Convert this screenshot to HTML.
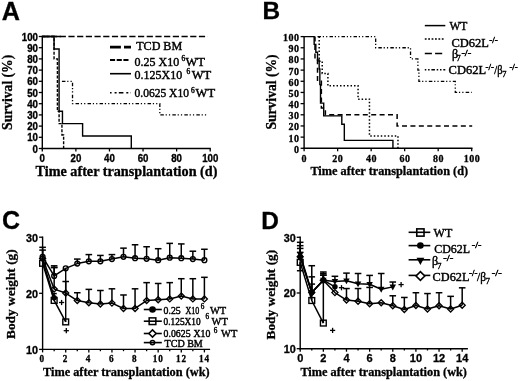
<!DOCTYPE html>
<html><head><meta charset="utf-8"><style>
html,body{margin:0;padding:0;background:#fff;}
svg{display:block;filter:grayscale(1) blur(0.3px);}
.s,.sb{font-family:"Liberation Sans", sans-serif;}
.r,.rb{font-family:"Liberation Serif", serif;}
.sb,.rb{font-weight:bold;}
text{stroke:#000;stroke-width:0.3px;}
.r{stroke-width:0.42px;}
</style></head><body>
<svg width="520" height="381" viewBox="0 0 520 381">
<rect width="520" height="381" fill="#fff"/>
<text class="sb" x="1.80" y="20.10" font-size="25.2">A</text>
<line x1="42.30" y1="35.80" x2="42.30" y2="149.20" stroke="#000" stroke-width="1.4" stroke-linecap="butt"/>
<line x1="41.60" y1="148.50" x2="210.80" y2="148.50" stroke="#000" stroke-width="1.4" stroke-linecap="butt"/>
<line x1="38.80" y1="148.50" x2="42.30" y2="148.50" stroke="#000" stroke-width="1.3" stroke-linecap="butt"/>
<text class="sb" transform="translate(38.00,152.60) scale(1,1.22)" font-size="9.7" text-anchor="end">0</text>
<line x1="38.80" y1="137.30" x2="42.30" y2="137.30" stroke="#000" stroke-width="1.3" stroke-linecap="butt"/>
<text class="sb" transform="translate(38.00,141.40) scale(1,1.22)" font-size="9.7" text-anchor="end">10</text>
<line x1="38.80" y1="126.10" x2="42.30" y2="126.10" stroke="#000" stroke-width="1.3" stroke-linecap="butt"/>
<text class="sb" transform="translate(38.00,130.20) scale(1,1.22)" font-size="9.7" text-anchor="end">20</text>
<line x1="38.80" y1="114.90" x2="42.30" y2="114.90" stroke="#000" stroke-width="1.3" stroke-linecap="butt"/>
<text class="sb" transform="translate(38.00,119.00) scale(1,1.22)" font-size="9.7" text-anchor="end">30</text>
<line x1="38.80" y1="103.70" x2="42.30" y2="103.70" stroke="#000" stroke-width="1.3" stroke-linecap="butt"/>
<text class="sb" transform="translate(38.00,107.80) scale(1,1.22)" font-size="9.7" text-anchor="end">40</text>
<line x1="38.80" y1="92.50" x2="42.30" y2="92.50" stroke="#000" stroke-width="1.3" stroke-linecap="butt"/>
<text class="sb" transform="translate(38.00,96.60) scale(1,1.22)" font-size="9.7" text-anchor="end">50</text>
<line x1="38.80" y1="81.30" x2="42.30" y2="81.30" stroke="#000" stroke-width="1.3" stroke-linecap="butt"/>
<text class="sb" transform="translate(38.00,85.40) scale(1,1.22)" font-size="9.7" text-anchor="end">60</text>
<line x1="38.80" y1="70.10" x2="42.30" y2="70.10" stroke="#000" stroke-width="1.3" stroke-linecap="butt"/>
<text class="sb" transform="translate(38.00,74.20) scale(1,1.22)" font-size="9.7" text-anchor="end">70</text>
<line x1="38.80" y1="58.90" x2="42.30" y2="58.90" stroke="#000" stroke-width="1.3" stroke-linecap="butt"/>
<text class="sb" transform="translate(38.00,63.00) scale(1,1.22)" font-size="9.7" text-anchor="end">80</text>
<line x1="38.80" y1="47.70" x2="42.30" y2="47.70" stroke="#000" stroke-width="1.3" stroke-linecap="butt"/>
<text class="sb" transform="translate(38.00,51.80) scale(1,1.22)" font-size="9.7" text-anchor="end">90</text>
<line x1="38.80" y1="36.50" x2="42.30" y2="36.50" stroke="#000" stroke-width="1.3" stroke-linecap="butt"/>
<text class="sb" transform="translate(38.00,40.60) scale(1,1.22)" font-size="9.7" text-anchor="end">100</text>
<line x1="42.30" y1="148.50" x2="42.30" y2="151.50" stroke="#000" stroke-width="1.3" stroke-linecap="butt"/>
<text class="sb" transform="translate(42.30,161.60) scale(1,1.22)" font-size="9.7" text-anchor="middle">0</text>
<line x1="75.88" y1="148.50" x2="75.88" y2="151.50" stroke="#000" stroke-width="1.3" stroke-linecap="butt"/>
<text class="sb" transform="translate(75.88,161.60) scale(1,1.22)" font-size="9.7" text-anchor="middle">20</text>
<line x1="109.46" y1="148.50" x2="109.46" y2="151.50" stroke="#000" stroke-width="1.3" stroke-linecap="butt"/>
<text class="sb" transform="translate(109.46,161.60) scale(1,1.22)" font-size="9.7" text-anchor="middle">40</text>
<line x1="143.04" y1="148.50" x2="143.04" y2="151.50" stroke="#000" stroke-width="1.3" stroke-linecap="butt"/>
<text class="sb" transform="translate(143.04,161.60) scale(1,1.22)" font-size="9.7" text-anchor="middle">60</text>
<line x1="176.62" y1="148.50" x2="176.62" y2="151.50" stroke="#000" stroke-width="1.3" stroke-linecap="butt"/>
<text class="sb" transform="translate(176.62,161.60) scale(1,1.22)" font-size="9.7" text-anchor="middle">80</text>
<line x1="210.20" y1="148.50" x2="210.20" y2="151.50" stroke="#000" stroke-width="1.3" stroke-linecap="butt"/>
<text class="sb" transform="translate(210.20,161.60) scale(1,1.22)" font-size="9.7" text-anchor="middle">100</text>
<text class="rb" x="35.50" y="175.90" font-size="14.2">Time after transplantation (d)</text>
<text class="rb" transform="translate(11.5,129.9) rotate(-90)" font-size="13.6">Survival (%)</text>
<line x1="42.30" y1="36.50" x2="207.68" y2="36.50" stroke="#000" stroke-width="1.6" stroke-linecap="butt" stroke-dasharray="6.2,2.5"/>
<polyline points="42.30,36.50 54.05,36.50 54.05,58.90 57.41,58.90 57.41,111.20 59.09,111.20 59.09,123.64 61.94,123.64 61.94,135.06 63.62,135.06 63.62,148.50" fill="none" stroke="#000" stroke-width="1.4" stroke-linejoin="miter" stroke-dasharray="3,1.5"/>
<polyline points="42.30,36.50 54.05,36.50 54.05,48.93 59.09,48.93 59.09,111.20 62.45,111.20 62.45,123.64 82.60,123.64 82.60,136.07 131.29,136.07 131.29,148.50" fill="none" stroke="#000" stroke-width="1.4" stroke-linejoin="miter"/>
<polyline points="61.94,81.30 72.52,81.30 72.52,103.70 159.83,103.70 159.83,114.90 208.19,114.90" fill="none" stroke="#000" stroke-width="1.3" stroke-linejoin="miter" stroke-dasharray="3.5,1.8,1.2,2.1,1.2,2.2"/>
<line x1="42.30" y1="36.50" x2="61.00" y2="36.50" stroke="#000" stroke-width="1.5" stroke-linecap="butt"/>
<line x1="110.00" y1="47.10" x2="131.00" y2="47.10" stroke="#000" stroke-width="2.6" stroke-linecap="butt" stroke-dasharray="10.9,3.1"/>
<line x1="110.00" y1="60.00" x2="129.20" y2="60.00" stroke="#000" stroke-width="2.0" stroke-linecap="butt" stroke-dasharray="5.1,1.6"/>
<line x1="110.00" y1="73.70" x2="131.00" y2="73.70" stroke="#000" stroke-width="1.6" stroke-linecap="butt"/>
<line x1="110.00" y1="92.80" x2="131.00" y2="92.80" stroke="#000" stroke-width="1.6" stroke-linecap="butt" stroke-dasharray="1.6,3,2,2.2,4.6,2.9,2,2.4"/>
<text class="r" x="136.20" y="50.40" font-size="12" textLength="46" lengthAdjust="spacingAndGlyphs">TCD BM</text>
<text class="r" x="134.50" y="66.10" font-size="12">0.25 X10</text>
<text class="r" x="181.60" y="61.00" font-size="7.4">6</text>
<text class="r" x="185.40" y="66.10" font-size="12" textLength="19.6" lengthAdjust="spacingAndGlyphs">WT</text>
<text class="r" x="134.50" y="79.40" font-size="12">0.125X10</text>
<text class="r" x="186.60" y="73.90" font-size="7.4">6</text>
<text class="r" x="191.70" y="79.40" font-size="12" textLength="19.6" lengthAdjust="spacingAndGlyphs">WT</text>
<text class="r" x="134.50" y="97.20" font-size="12" textLength="54.5" lengthAdjust="spacingAndGlyphs">0.0625 X10</text>
<text class="r" x="191.10" y="93.40" font-size="7.4">6</text>
<text class="r" x="195.50" y="97.20" font-size="12" textLength="19.6" lengthAdjust="spacingAndGlyphs">WT</text>
<text class="sb" x="262.50" y="19.20" font-size="24.4">B</text>
<line x1="304.10" y1="35.90" x2="304.10" y2="149.00" stroke="#000" stroke-width="1.4" stroke-linecap="butt"/>
<line x1="303.40" y1="148.30" x2="472.50" y2="148.30" stroke="#000" stroke-width="1.4" stroke-linecap="butt"/>
<line x1="300.60" y1="148.30" x2="304.10" y2="148.30" stroke="#000" stroke-width="1.3" stroke-linecap="butt"/>
<text class="rb" x="299.50" y="152.70" font-size="10" text-anchor="end" letter-spacing="0.5">0</text>
<line x1="300.60" y1="137.13" x2="304.10" y2="137.13" stroke="#000" stroke-width="1.3" stroke-linecap="butt"/>
<text class="rb" x="299.50" y="141.53" font-size="10" text-anchor="end" letter-spacing="0.5">10</text>
<line x1="300.60" y1="125.96" x2="304.10" y2="125.96" stroke="#000" stroke-width="1.3" stroke-linecap="butt"/>
<text class="rb" x="299.50" y="130.36" font-size="10" text-anchor="end" letter-spacing="0.5">20</text>
<line x1="300.60" y1="114.79" x2="304.10" y2="114.79" stroke="#000" stroke-width="1.3" stroke-linecap="butt"/>
<text class="rb" x="299.50" y="119.19" font-size="10" text-anchor="end" letter-spacing="0.5">30</text>
<line x1="300.60" y1="103.62" x2="304.10" y2="103.62" stroke="#000" stroke-width="1.3" stroke-linecap="butt"/>
<text class="rb" x="299.50" y="108.02" font-size="10" text-anchor="end" letter-spacing="0.5">40</text>
<line x1="300.60" y1="92.45" x2="304.10" y2="92.45" stroke="#000" stroke-width="1.3" stroke-linecap="butt"/>
<text class="rb" x="299.50" y="96.85" font-size="10" text-anchor="end" letter-spacing="0.5">50</text>
<line x1="300.60" y1="81.28" x2="304.10" y2="81.28" stroke="#000" stroke-width="1.3" stroke-linecap="butt"/>
<text class="rb" x="299.50" y="85.68" font-size="10" text-anchor="end" letter-spacing="0.5">60</text>
<line x1="300.60" y1="70.11" x2="304.10" y2="70.11" stroke="#000" stroke-width="1.3" stroke-linecap="butt"/>
<text class="rb" x="299.50" y="74.51" font-size="10" text-anchor="end" letter-spacing="0.5">70</text>
<line x1="300.60" y1="58.94" x2="304.10" y2="58.94" stroke="#000" stroke-width="1.3" stroke-linecap="butt"/>
<text class="rb" x="299.50" y="63.34" font-size="10" text-anchor="end" letter-spacing="0.5">80</text>
<line x1="300.60" y1="47.77" x2="304.10" y2="47.77" stroke="#000" stroke-width="1.3" stroke-linecap="butt"/>
<text class="rb" x="299.50" y="52.17" font-size="10" text-anchor="end" letter-spacing="0.5">90</text>
<line x1="300.60" y1="36.60" x2="304.10" y2="36.60" stroke="#000" stroke-width="1.3" stroke-linecap="butt"/>
<text class="rb" x="299.50" y="41.00" font-size="10" text-anchor="end" letter-spacing="0.5">100</text>
<line x1="304.10" y1="148.30" x2="304.10" y2="151.30" stroke="#000" stroke-width="1.3" stroke-linecap="butt"/>
<text class="rb" x="304.35" y="161.80" font-size="10" text-anchor="middle" letter-spacing="0.5">0</text>
<line x1="337.62" y1="148.30" x2="337.62" y2="151.30" stroke="#000" stroke-width="1.3" stroke-linecap="butt"/>
<text class="rb" x="337.87" y="161.80" font-size="10" text-anchor="middle" letter-spacing="0.5">20</text>
<line x1="371.14" y1="148.30" x2="371.14" y2="151.30" stroke="#000" stroke-width="1.3" stroke-linecap="butt"/>
<text class="rb" x="371.39" y="161.80" font-size="10" text-anchor="middle" letter-spacing="0.5">40</text>
<line x1="404.66" y1="148.30" x2="404.66" y2="151.30" stroke="#000" stroke-width="1.3" stroke-linecap="butt"/>
<text class="rb" x="404.91" y="161.80" font-size="10" text-anchor="middle" letter-spacing="0.5">60</text>
<line x1="438.18" y1="148.30" x2="438.18" y2="151.30" stroke="#000" stroke-width="1.3" stroke-linecap="butt"/>
<text class="rb" x="438.43" y="161.80" font-size="10" text-anchor="middle" letter-spacing="0.5">80</text>
<line x1="471.70" y1="148.30" x2="471.70" y2="151.30" stroke="#000" stroke-width="1.3" stroke-linecap="butt"/>
<text class="rb" x="471.95" y="161.80" font-size="10" text-anchor="middle" letter-spacing="0.5">100</text>
<text class="rb" x="310.40" y="175.40" font-size="12.3">Time after transplantation (d)</text>
<text class="rb" transform="translate(276.0,129.6) rotate(-90)" font-size="13.6">Survival (%)</text>
<polyline points="304.10,36.60 314.16,36.60 314.16,44.42 315.83,44.42 315.83,52.24 317.51,52.24 317.51,60.06 319.18,60.06 319.18,68.99 319.85,68.99 319.85,84.63 320.52,84.63 320.52,103.17 323.71,103.17 323.71,115.91 341.81,115.91 341.81,124.28 344.32,124.28 344.32,140.37 392.93,140.37 392.93,148.30" fill="none" stroke="#000" stroke-width="1.4" stroke-linejoin="miter"/>
<polyline points="319.18,36.60 319.18,36.60 319.18,61.17 322.20,61.17 322.20,73.46 327.90,73.46 327.90,85.75 358.07,85.75 358.07,99.15 369.46,99.15 369.46,136.01 397.96,136.01 397.96,148.30" fill="none" stroke="#000" stroke-width="1.5" stroke-linejoin="miter" stroke-dasharray="1.5,2"/>
<polyline points="314.99,36.60 314.99,36.60 314.99,58.94 317.51,58.94 317.51,81.28 321.36,81.28 321.36,108.09 325.39,108.09 325.39,114.79 397.12,114.79 397.12,125.96 472.20,125.96" fill="none" stroke="#000" stroke-width="1.5" stroke-linejoin="miter" stroke-dasharray="5,3.4"/>
<polyline points="317.51,36.60 375.67,36.60 375.67,47.77 410.53,47.77 410.53,58.94 417.90,58.94 417.90,70.11 418.91,70.11 418.91,81.28 455.28,81.28 455.28,92.45 471.70,92.45" fill="none" stroke="#000" stroke-width="1.3" stroke-linejoin="miter" stroke-dasharray="3.5,1.8,1.2,2.1,1.2,2.2"/>
<line x1="424.80" y1="25.60" x2="445.30" y2="25.60" stroke="#000" stroke-width="1.5" stroke-linecap="butt"/>
<line x1="424.80" y1="39.00" x2="444.50" y2="39.00" stroke="#000" stroke-width="1.5" stroke-linecap="butt" stroke-dasharray="1.8,1.6"/>
<line x1="424.80" y1="53.50" x2="442.90" y2="53.50" stroke="#000" stroke-width="1.5" stroke-linecap="butt" stroke-dasharray="7.1,3.2"/>
<line x1="424.80" y1="69.80" x2="445.30" y2="69.80" stroke="#000" stroke-width="1.5" stroke-linecap="butt" stroke-dasharray="1.5,1.8,1.5,1.8,3.5,1.8"/>
<text class="r" x="449.40" y="30.00" font-size="12" textLength="18" lengthAdjust="spacingAndGlyphs">WT</text>
<text class="r" x="451.40" y="46.80" font-size="12" textLength="37.4" lengthAdjust="spacingAndGlyphs">CD62L</text>
<text class="r" x="489.20" y="42.60" font-size="7.6" textLength="8.6" lengthAdjust="spacingAndGlyphs">-/-</text>
<text class="r" x="451.90" y="58.40" font-size="12">β</text>
<text class="r" x="456.40" y="61.30" font-size="8.4">7</text>
<text class="r" x="461.40" y="55.60" font-size="7.6" textLength="9.8" lengthAdjust="spacingAndGlyphs">-/-</text>
<text class="r" x="448.60" y="74.20" font-size="12" textLength="37.4" lengthAdjust="spacingAndGlyphs">CD62L</text>
<text class="r" x="485.60" y="69.80" font-size="7.6" textLength="8.4" lengthAdjust="spacingAndGlyphs">-/-</text>
<text class="r" x="494.30" y="74.20" font-size="12" textLength="8.2" lengthAdjust="spacingAndGlyphs">/β</text>
<text class="r" x="502.30" y="77.10" font-size="8.4">7</text>
<text class="r" x="509.40" y="69.80" font-size="7.6" textLength="8.4" lengthAdjust="spacingAndGlyphs">-/-</text>
<text class="sb" x="2.10" y="228.80" font-size="25.0">C</text>
<line x1="42.60" y1="236.50" x2="42.60" y2="350.10" stroke="#000" stroke-width="1.4" stroke-linecap="butt"/>
<line x1="41.90" y1="349.40" x2="210.10" y2="349.40" stroke="#000" stroke-width="1.4" stroke-linecap="butt"/>
<line x1="39.10" y1="349.40" x2="42.60" y2="349.40" stroke="#000" stroke-width="1.3" stroke-linecap="butt"/>
<text class="sb" x="38.00" y="353.70" font-size="10.8" text-anchor="end">10</text>
<line x1="39.10" y1="293.30" x2="42.60" y2="293.30" stroke="#000" stroke-width="1.3" stroke-linecap="butt"/>
<text class="sb" x="38.00" y="297.60" font-size="10.8" text-anchor="end">20</text>
<line x1="39.10" y1="237.20" x2="42.60" y2="237.20" stroke="#000" stroke-width="1.3" stroke-linecap="butt"/>
<text class="sb" x="38.00" y="241.50" font-size="10.8" text-anchor="end">30</text>
<line x1="42.60" y1="349.40" x2="42.60" y2="352.40" stroke="#000" stroke-width="1.3" stroke-linecap="butt"/>
<text class="rb" transform="translate(42.30,362.00) scale(1,1.12)" font-size="9.2" text-anchor="middle" letter-spacing="0.9">0</text>
<line x1="54.16" y1="349.40" x2="54.16" y2="351.20" stroke="#000" stroke-width="1.3" stroke-linecap="butt"/>
<line x1="65.71" y1="349.40" x2="65.71" y2="352.40" stroke="#000" stroke-width="1.3" stroke-linecap="butt"/>
<text class="rb" transform="translate(65.41,362.00) scale(1,1.12)" font-size="9.2" text-anchor="middle" letter-spacing="0.9">2</text>
<line x1="77.27" y1="349.40" x2="77.27" y2="351.20" stroke="#000" stroke-width="1.3" stroke-linecap="butt"/>
<line x1="88.83" y1="349.40" x2="88.83" y2="352.40" stroke="#000" stroke-width="1.3" stroke-linecap="butt"/>
<text class="rb" transform="translate(88.53,362.00) scale(1,1.12)" font-size="9.2" text-anchor="middle" letter-spacing="0.9">4</text>
<line x1="100.39" y1="349.40" x2="100.39" y2="351.20" stroke="#000" stroke-width="1.3" stroke-linecap="butt"/>
<line x1="111.94" y1="349.40" x2="111.94" y2="352.40" stroke="#000" stroke-width="1.3" stroke-linecap="butt"/>
<text class="rb" transform="translate(111.64,362.00) scale(1,1.12)" font-size="9.2" text-anchor="middle" letter-spacing="0.9">6</text>
<line x1="123.50" y1="349.40" x2="123.50" y2="351.20" stroke="#000" stroke-width="1.3" stroke-linecap="butt"/>
<line x1="135.06" y1="349.40" x2="135.06" y2="352.40" stroke="#000" stroke-width="1.3" stroke-linecap="butt"/>
<text class="rb" transform="translate(134.76,362.00) scale(1,1.12)" font-size="9.2" text-anchor="middle" letter-spacing="0.9">8</text>
<line x1="146.61" y1="349.40" x2="146.61" y2="351.20" stroke="#000" stroke-width="1.3" stroke-linecap="butt"/>
<line x1="158.17" y1="349.40" x2="158.17" y2="352.40" stroke="#000" stroke-width="1.3" stroke-linecap="butt"/>
<text class="rb" transform="translate(158.27,362.00) scale(1,1.12)" font-size="9.2" text-anchor="middle" letter-spacing="0.9">10</text>
<line x1="169.73" y1="349.40" x2="169.73" y2="351.20" stroke="#000" stroke-width="1.3" stroke-linecap="butt"/>
<line x1="181.28" y1="349.40" x2="181.28" y2="352.40" stroke="#000" stroke-width="1.3" stroke-linecap="butt"/>
<text class="rb" transform="translate(181.38,362.00) scale(1,1.12)" font-size="9.2" text-anchor="middle" letter-spacing="0.9">12</text>
<line x1="192.84" y1="349.40" x2="192.84" y2="351.20" stroke="#000" stroke-width="1.3" stroke-linecap="butt"/>
<line x1="204.40" y1="349.40" x2="204.40" y2="352.40" stroke="#000" stroke-width="1.3" stroke-linecap="butt"/>
<text class="rb" transform="translate(204.50,362.00) scale(1,1.12)" font-size="9.2" text-anchor="middle" letter-spacing="0.9">14</text>
<text class="rb" x="43.00" y="376.00" font-size="12.3">Time after transplantation (wk)</text>
<text class="rb" transform="translate(14.5,339) rotate(-90)" font-size="13.35">Body weight (g)</text>
<line x1="42.60" y1="256.83" x2="42.60" y2="247.30" stroke="#000" stroke-width="1.5" stroke-linecap="butt"/>
<line x1="39.30" y1="247.30" x2="45.90" y2="247.30" stroke="#000" stroke-width="1.5" stroke-linecap="butt"/>
<line x1="54.16" y1="275.91" x2="54.16" y2="265.81" stroke="#000" stroke-width="1.5" stroke-linecap="butt"/>
<line x1="50.86" y1="265.81" x2="57.46" y2="265.81" stroke="#000" stroke-width="1.5" stroke-linecap="butt"/>
<line x1="77.27" y1="263.57" x2="77.27" y2="259.08" stroke="#000" stroke-width="1.5" stroke-linecap="butt"/>
<line x1="73.97" y1="259.08" x2="80.57" y2="259.08" stroke="#000" stroke-width="1.5" stroke-linecap="butt"/>
<line x1="88.83" y1="261.32" x2="88.83" y2="254.59" stroke="#000" stroke-width="1.5" stroke-linecap="butt"/>
<line x1="85.53" y1="254.59" x2="92.13" y2="254.59" stroke="#000" stroke-width="1.5" stroke-linecap="butt"/>
<line x1="100.39" y1="261.32" x2="100.39" y2="255.43" stroke="#000" stroke-width="1.5" stroke-linecap="butt"/>
<line x1="97.09" y1="255.43" x2="103.69" y2="255.43" stroke="#000" stroke-width="1.5" stroke-linecap="butt"/>
<line x1="111.94" y1="259.08" x2="111.94" y2="254.59" stroke="#000" stroke-width="1.5" stroke-linecap="butt"/>
<line x1="108.64" y1="254.59" x2="115.24" y2="254.59" stroke="#000" stroke-width="1.5" stroke-linecap="butt"/>
<line x1="123.50" y1="256.83" x2="123.50" y2="248.14" stroke="#000" stroke-width="1.5" stroke-linecap="butt"/>
<line x1="120.20" y1="248.14" x2="126.80" y2="248.14" stroke="#000" stroke-width="1.5" stroke-linecap="butt"/>
<line x1="135.06" y1="258.24" x2="135.06" y2="244.77" stroke="#000" stroke-width="1.5" stroke-linecap="butt"/>
<line x1="131.76" y1="244.77" x2="138.36" y2="244.77" stroke="#000" stroke-width="1.5" stroke-linecap="butt"/>
<line x1="146.61" y1="258.80" x2="146.61" y2="246.74" stroke="#000" stroke-width="1.5" stroke-linecap="butt"/>
<line x1="143.31" y1="246.74" x2="149.91" y2="246.74" stroke="#000" stroke-width="1.5" stroke-linecap="butt"/>
<line x1="158.17" y1="260.20" x2="158.17" y2="248.70" stroke="#000" stroke-width="1.5" stroke-linecap="butt"/>
<line x1="154.87" y1="248.70" x2="161.47" y2="248.70" stroke="#000" stroke-width="1.5" stroke-linecap="butt"/>
<line x1="169.73" y1="257.68" x2="169.73" y2="243.37" stroke="#000" stroke-width="1.5" stroke-linecap="butt"/>
<line x1="166.43" y1="243.37" x2="173.03" y2="243.37" stroke="#000" stroke-width="1.5" stroke-linecap="butt"/>
<line x1="181.28" y1="258.24" x2="181.28" y2="243.93" stroke="#000" stroke-width="1.5" stroke-linecap="butt"/>
<line x1="177.98" y1="243.93" x2="184.58" y2="243.93" stroke="#000" stroke-width="1.5" stroke-linecap="butt"/>
<line x1="192.84" y1="259.08" x2="192.84" y2="251.22" stroke="#000" stroke-width="1.5" stroke-linecap="butt"/>
<line x1="189.54" y1="251.22" x2="196.14" y2="251.22" stroke="#000" stroke-width="1.5" stroke-linecap="butt"/>
<line x1="204.40" y1="260.20" x2="204.40" y2="249.26" stroke="#000" stroke-width="1.5" stroke-linecap="butt"/>
<line x1="201.10" y1="249.26" x2="207.70" y2="249.26" stroke="#000" stroke-width="1.5" stroke-linecap="butt"/>
<line x1="42.60" y1="258.52" x2="42.60" y2="250.10" stroke="#000" stroke-width="1.5" stroke-linecap="butt"/>
<line x1="39.30" y1="250.10" x2="45.90" y2="250.10" stroke="#000" stroke-width="1.5" stroke-linecap="butt"/>
<line x1="65.71" y1="293.02" x2="65.71" y2="281.52" stroke="#000" stroke-width="1.5" stroke-linecap="butt"/>
<line x1="62.41" y1="281.52" x2="69.01" y2="281.52" stroke="#000" stroke-width="1.5" stroke-linecap="butt"/>
<line x1="77.27" y1="300.59" x2="77.27" y2="292.74" stroke="#000" stroke-width="1.5" stroke-linecap="butt"/>
<line x1="73.97" y1="292.74" x2="80.57" y2="292.74" stroke="#000" stroke-width="1.5" stroke-linecap="butt"/>
<line x1="88.83" y1="302.84" x2="88.83" y2="289.37" stroke="#000" stroke-width="1.5" stroke-linecap="butt"/>
<line x1="85.53" y1="289.37" x2="92.13" y2="289.37" stroke="#000" stroke-width="1.5" stroke-linecap="butt"/>
<line x1="100.39" y1="303.96" x2="100.39" y2="290.50" stroke="#000" stroke-width="1.5" stroke-linecap="butt"/>
<line x1="97.09" y1="290.50" x2="103.69" y2="290.50" stroke="#000" stroke-width="1.5" stroke-linecap="butt"/>
<line x1="111.94" y1="303.12" x2="111.94" y2="288.81" stroke="#000" stroke-width="1.5" stroke-linecap="butt"/>
<line x1="108.64" y1="288.81" x2="115.24" y2="288.81" stroke="#000" stroke-width="1.5" stroke-linecap="butt"/>
<line x1="123.50" y1="308.45" x2="123.50" y2="294.98" stroke="#000" stroke-width="1.5" stroke-linecap="butt"/>
<line x1="120.20" y1="294.98" x2="126.80" y2="294.98" stroke="#000" stroke-width="1.5" stroke-linecap="butt"/>
<line x1="135.06" y1="308.45" x2="135.06" y2="288.81" stroke="#000" stroke-width="1.5" stroke-linecap="butt"/>
<line x1="131.76" y1="288.81" x2="138.36" y2="288.81" stroke="#000" stroke-width="1.5" stroke-linecap="butt"/>
<line x1="146.61" y1="300.59" x2="146.61" y2="282.64" stroke="#000" stroke-width="1.5" stroke-linecap="butt"/>
<line x1="143.31" y1="282.64" x2="149.91" y2="282.64" stroke="#000" stroke-width="1.5" stroke-linecap="butt"/>
<line x1="158.17" y1="299.75" x2="158.17" y2="283.48" stroke="#000" stroke-width="1.5" stroke-linecap="butt"/>
<line x1="154.87" y1="283.48" x2="161.47" y2="283.48" stroke="#000" stroke-width="1.5" stroke-linecap="butt"/>
<line x1="169.73" y1="298.91" x2="169.73" y2="282.64" stroke="#000" stroke-width="1.5" stroke-linecap="butt"/>
<line x1="166.43" y1="282.64" x2="173.03" y2="282.64" stroke="#000" stroke-width="1.5" stroke-linecap="butt"/>
<line x1="181.28" y1="296.10" x2="181.28" y2="278.71" stroke="#000" stroke-width="1.5" stroke-linecap="butt"/>
<line x1="177.98" y1="278.71" x2="184.58" y2="278.71" stroke="#000" stroke-width="1.5" stroke-linecap="butt"/>
<line x1="192.84" y1="298.91" x2="192.84" y2="278.71" stroke="#000" stroke-width="1.5" stroke-linecap="butt"/>
<line x1="189.54" y1="278.71" x2="196.14" y2="278.71" stroke="#000" stroke-width="1.5" stroke-linecap="butt"/>
<line x1="204.40" y1="298.91" x2="204.40" y2="277.31" stroke="#000" stroke-width="1.5" stroke-linecap="butt"/>
<line x1="201.10" y1="277.31" x2="207.70" y2="277.31" stroke="#000" stroke-width="1.5" stroke-linecap="butt"/>
<line x1="54.16" y1="289.09" x2="54.16" y2="267.49" stroke="#000" stroke-width="1.5" stroke-linecap="butt"/>
<line x1="50.86" y1="267.49" x2="57.46" y2="267.49" stroke="#000" stroke-width="1.5" stroke-linecap="butt"/>
<line x1="54.16" y1="300.42" x2="54.16" y2="293.58" stroke="#000" stroke-width="1.5" stroke-linecap="butt"/>
<line x1="51.56" y1="293.58" x2="56.76" y2="293.58" stroke="#000" stroke-width="1.5" stroke-linecap="butt"/>
<line x1="65.71" y1="321.91" x2="65.71" y2="268.34" stroke="#000" stroke-width="1.4" stroke-linecap="butt"/>
<polyline points="42.60,256.83 54.16,275.91 65.71,268.34 77.27,263.57 88.83,261.32 100.39,261.32 111.94,259.08 123.50,256.83 135.06,258.24 146.61,258.80 158.17,260.20 169.73,257.68 181.28,258.24 192.84,259.08 204.40,260.20" fill="none" stroke="#000" stroke-width="1.5" stroke-linejoin="round"/>
<polyline points="42.60,258.52 54.16,289.09 65.71,293.02 77.27,300.59 88.83,302.84 100.39,303.96 111.94,303.12 123.50,308.45 135.06,308.45 146.61,300.59 158.17,299.75 169.73,298.91 181.28,296.10 192.84,298.91 204.40,298.91" fill="none" stroke="#000" stroke-width="1.5" stroke-linejoin="round"/>
<polyline points="42.60,263.29 54.16,300.42 65.71,321.91" fill="none" stroke="#000" stroke-width="1.5" stroke-linejoin="miter"/>
<polyline points="42.60,260.20 54.16,297.79" fill="none" stroke="#000" stroke-width="1.5" stroke-linejoin="miter"/>
<circle cx="42.60" cy="256.83" r="2.42" fill="none" stroke="#000" stroke-width="1.4"/>
<circle cx="54.16" cy="275.91" r="2.42" fill="none" stroke="#000" stroke-width="1.4"/>
<circle cx="65.71" cy="268.34" r="2.42" fill="none" stroke="#000" stroke-width="1.4"/>
<circle cx="77.27" cy="263.57" r="2.42" fill="none" stroke="#000" stroke-width="1.4"/>
<circle cx="88.83" cy="261.32" r="2.42" fill="none" stroke="#000" stroke-width="1.4"/>
<circle cx="100.39" cy="261.32" r="2.42" fill="none" stroke="#000" stroke-width="1.4"/>
<circle cx="111.94" cy="259.08" r="2.42" fill="none" stroke="#000" stroke-width="1.4"/>
<circle cx="123.50" cy="256.83" r="2.42" fill="none" stroke="#000" stroke-width="1.4"/>
<circle cx="135.06" cy="258.24" r="2.42" fill="none" stroke="#000" stroke-width="1.4"/>
<circle cx="146.61" cy="258.80" r="2.42" fill="none" stroke="#000" stroke-width="1.4"/>
<circle cx="158.17" cy="260.20" r="2.42" fill="none" stroke="#000" stroke-width="1.4"/>
<circle cx="169.73" cy="257.68" r="2.42" fill="none" stroke="#000" stroke-width="1.4"/>
<circle cx="181.28" cy="258.24" r="2.42" fill="none" stroke="#000" stroke-width="1.4"/>
<circle cx="192.84" cy="259.08" r="2.42" fill="none" stroke="#000" stroke-width="1.4"/>
<circle cx="204.40" cy="260.20" r="2.42" fill="none" stroke="#000" stroke-width="1.4"/>
<polygon points="42.60,255.52 45.60,258.52 42.60,261.52 39.60,258.52" fill="none" stroke="#000" stroke-width="1.35"/>
<polygon points="54.16,286.09 57.16,289.09 54.16,292.09 51.16,289.09" fill="none" stroke="#000" stroke-width="1.35"/>
<polygon points="65.71,290.02 68.71,293.02 65.71,296.02 62.71,293.02" fill="none" stroke="#000" stroke-width="1.35"/>
<polygon points="77.27,297.59 80.27,300.59 77.27,303.59 74.27,300.59" fill="none" stroke="#000" stroke-width="1.35"/>
<polygon points="88.83,299.84 91.83,302.84 88.83,305.84 85.83,302.84" fill="none" stroke="#000" stroke-width="1.35"/>
<polygon points="100.39,300.96 103.39,303.96 100.39,306.96 97.39,303.96" fill="none" stroke="#000" stroke-width="1.35"/>
<polygon points="111.94,300.12 114.94,303.12 111.94,306.12 108.94,303.12" fill="none" stroke="#000" stroke-width="1.35"/>
<polygon points="123.50,305.45 126.50,308.45 123.50,311.45 120.50,308.45" fill="none" stroke="#000" stroke-width="1.35"/>
<polygon points="135.06,305.45 138.06,308.45 135.06,311.45 132.06,308.45" fill="none" stroke="#000" stroke-width="1.35"/>
<polygon points="146.61,297.59 149.61,300.59 146.61,303.59 143.61,300.59" fill="none" stroke="#000" stroke-width="1.35"/>
<polygon points="158.17,296.75 161.17,299.75 158.17,302.75 155.17,299.75" fill="none" stroke="#000" stroke-width="1.35"/>
<polygon points="169.73,295.91 172.73,298.91 169.73,301.91 166.73,298.91" fill="none" stroke="#000" stroke-width="1.35"/>
<polygon points="181.28,293.10 184.28,296.10 181.28,299.10 178.28,296.10" fill="none" stroke="#000" stroke-width="1.35"/>
<polygon points="192.84,295.91 195.84,298.91 192.84,301.91 189.84,298.91" fill="none" stroke="#000" stroke-width="1.35"/>
<polygon points="204.40,295.91 207.40,298.91 204.40,301.91 201.40,298.91" fill="none" stroke="#000" stroke-width="1.35"/>
<circle cx="54.16" cy="297.79" r="2.75" fill="#000"/>
<line x1="50.86" y1="267.49" x2="57.46" y2="267.49" stroke="#000" stroke-width="1.5" stroke-linecap="butt"/>
<rect x="39.70" y="260.39" width="5.80" height="5.80" fill="none" stroke="#000" stroke-width="1.4"/>
<rect x="51.26" y="297.52" width="5.80" height="5.80" fill="none" stroke="#000" stroke-width="1.4"/>
<rect x="62.81" y="319.01" width="5.80" height="5.80" fill="none" stroke="#000" stroke-width="1.4"/>
<line x1="59.00" y1="302.50" x2="64.20" y2="302.50" stroke="#000" stroke-width="1.3" stroke-linecap="butt"/>
<line x1="61.60" y1="299.90" x2="61.60" y2="305.10" stroke="#000" stroke-width="1.3" stroke-linecap="butt"/>
<line x1="63.70" y1="330.70" x2="68.90" y2="330.70" stroke="#000" stroke-width="1.3" stroke-linecap="butt"/>
<line x1="66.30" y1="328.10" x2="66.30" y2="333.30" stroke="#000" stroke-width="1.3" stroke-linecap="butt"/>
<line x1="143.80" y1="309.50" x2="161.80" y2="309.50" stroke="#000" stroke-width="1.6" stroke-linecap="butt"/>
<circle cx="152.50" cy="309.50" r="3.33" fill="#000"/>
<line x1="143.80" y1="321.20" x2="161.80" y2="321.20" stroke="#000" stroke-width="1.6" stroke-linecap="butt"/>
<rect x="149.16" y="317.87" width="6.67" height="6.67" fill="none" stroke="#000" stroke-width="1.5"/>
<line x1="143.80" y1="333.50" x2="161.80" y2="333.50" stroke="#000" stroke-width="1.6" stroke-linecap="butt"/>
<polygon points="152.50,329.90 156.10,333.50 152.50,337.10 148.90,333.50" fill="#fff" stroke="#000" stroke-width="1.5"/>
<line x1="143.80" y1="342.60" x2="161.80" y2="342.60" stroke="#000" stroke-width="1.6" stroke-linecap="butt"/>
<circle cx="152.50" cy="342.60" r="2.18" fill="none" stroke="#000" stroke-width="1.5"/>
<text class="r" x="163.60" y="313.50" font-size="9.8">0.25</text>
<text class="r" x="185.40" y="313.50" font-size="9.8" textLength="13.8" lengthAdjust="spacingAndGlyphs">X10</text>
<text class="r" x="200.80" y="309.00" font-size="7.2">6</text>
<text class="r" x="209.90" y="313.50" font-size="10.2" textLength="16.2" lengthAdjust="spacingAndGlyphs">WT</text>
<text class="r" x="163.60" y="324.90" font-size="9.8" textLength="37.0" lengthAdjust="spacingAndGlyphs">0.125X10</text>
<text class="r" x="205.60" y="319.20" font-size="7.2">6</text>
<text class="r" x="211.60" y="324.90" font-size="10.2" textLength="16.2" lengthAdjust="spacingAndGlyphs">WT</text>
<text class="r" x="163.60" y="337.00" font-size="9.8">0.0625</text>
<text class="r" x="193.50" y="337.00" font-size="9.8" textLength="16.9" lengthAdjust="spacingAndGlyphs">X10</text>
<text class="r" x="213.80" y="332.90" font-size="7.2">6</text>
<text class="r" x="221.10" y="337.00" font-size="10.2" textLength="16.2" lengthAdjust="spacingAndGlyphs">WT</text>
<text class="r" x="164.60" y="346.50" font-size="9.9" textLength="38.2" lengthAdjust="spacingAndGlyphs">TCD BM</text>
<text class="sb" x="261.20" y="229.40" font-size="24.4">D</text>
<line x1="300.20" y1="236.60" x2="300.20" y2="349.40" stroke="#000" stroke-width="1.4" stroke-linecap="butt"/>
<line x1="299.50" y1="348.70" x2="467.89" y2="348.70" stroke="#000" stroke-width="1.4" stroke-linecap="butt"/>
<line x1="296.70" y1="348.70" x2="300.20" y2="348.70" stroke="#000" stroke-width="1.3" stroke-linecap="butt"/>
<text class="sb" x="295.70" y="353.00" font-size="10.8" text-anchor="end">10</text>
<line x1="296.70" y1="293.00" x2="300.20" y2="293.00" stroke="#000" stroke-width="1.3" stroke-linecap="butt"/>
<text class="sb" x="295.70" y="297.30" font-size="10.8" text-anchor="end">20</text>
<line x1="296.70" y1="237.30" x2="300.20" y2="237.30" stroke="#000" stroke-width="1.3" stroke-linecap="butt"/>
<text class="sb" x="295.70" y="241.60" font-size="10.8" text-anchor="end">30</text>
<line x1="300.20" y1="348.70" x2="300.20" y2="351.70" stroke="#000" stroke-width="1.3" stroke-linecap="butt"/>
<text class="sb" transform="translate(300.20,362.30) scale(1,1.0)" font-size="11" text-anchor="middle">0</text>
<line x1="311.77" y1="348.70" x2="311.77" y2="350.50" stroke="#000" stroke-width="1.3" stroke-linecap="butt"/>
<line x1="323.34" y1="348.70" x2="323.34" y2="351.70" stroke="#000" stroke-width="1.3" stroke-linecap="butt"/>
<text class="sb" transform="translate(323.34,362.30) scale(1,1.0)" font-size="11" text-anchor="middle">2</text>
<line x1="334.91" y1="348.70" x2="334.91" y2="350.50" stroke="#000" stroke-width="1.3" stroke-linecap="butt"/>
<line x1="346.48" y1="348.70" x2="346.48" y2="351.70" stroke="#000" stroke-width="1.3" stroke-linecap="butt"/>
<text class="sb" transform="translate(346.48,362.30) scale(1,1.0)" font-size="11" text-anchor="middle">4</text>
<line x1="358.06" y1="348.70" x2="358.06" y2="350.50" stroke="#000" stroke-width="1.3" stroke-linecap="butt"/>
<line x1="369.63" y1="348.70" x2="369.63" y2="351.70" stroke="#000" stroke-width="1.3" stroke-linecap="butt"/>
<text class="sb" transform="translate(369.63,362.30) scale(1,1.0)" font-size="11" text-anchor="middle">6</text>
<line x1="381.20" y1="348.70" x2="381.20" y2="350.50" stroke="#000" stroke-width="1.3" stroke-linecap="butt"/>
<line x1="392.77" y1="348.70" x2="392.77" y2="351.70" stroke="#000" stroke-width="1.3" stroke-linecap="butt"/>
<text class="sb" transform="translate(392.77,362.30) scale(1,1.0)" font-size="11" text-anchor="middle">8</text>
<line x1="404.34" y1="348.70" x2="404.34" y2="350.50" stroke="#000" stroke-width="1.3" stroke-linecap="butt"/>
<line x1="415.91" y1="348.70" x2="415.91" y2="351.70" stroke="#000" stroke-width="1.3" stroke-linecap="butt"/>
<text class="sb" transform="translate(415.91,362.30) scale(1,1.0)" font-size="11" text-anchor="middle">10</text>
<line x1="427.48" y1="348.70" x2="427.48" y2="350.50" stroke="#000" stroke-width="1.3" stroke-linecap="butt"/>
<line x1="439.05" y1="348.70" x2="439.05" y2="351.70" stroke="#000" stroke-width="1.3" stroke-linecap="butt"/>
<text class="sb" transform="translate(439.05,362.30) scale(1,1.0)" font-size="11" text-anchor="middle">12</text>
<line x1="450.62" y1="348.70" x2="450.62" y2="350.50" stroke="#000" stroke-width="1.3" stroke-linecap="butt"/>
<line x1="462.19" y1="348.70" x2="462.19" y2="351.70" stroke="#000" stroke-width="1.3" stroke-linecap="butt"/>
<text class="sb" transform="translate(462.19,362.30) scale(1,1.0)" font-size="11" text-anchor="middle">14</text>
<text class="rb" x="300.40" y="376.00" font-size="12.3">Time after transplantation (wk)</text>
<text class="rb" transform="translate(274.6,339.5) rotate(-90)" font-size="13.35">Body weight (g)</text>
<line x1="300.20" y1="254.57" x2="300.20" y2="242.31" stroke="#000" stroke-width="1.5" stroke-linecap="butt"/>
<line x1="296.90" y1="242.31" x2="303.50" y2="242.31" stroke="#000" stroke-width="1.5" stroke-linecap="butt"/>
<line x1="311.77" y1="292.44" x2="311.77" y2="276.85" stroke="#000" stroke-width="1.5" stroke-linecap="butt"/>
<line x1="308.47" y1="276.85" x2="315.07" y2="276.85" stroke="#000" stroke-width="1.5" stroke-linecap="butt"/>
<line x1="323.34" y1="280.19" x2="323.34" y2="272.00" stroke="#000" stroke-width="1.5" stroke-linecap="butt"/>
<line x1="320.04" y1="272.00" x2="326.64" y2="272.00" stroke="#000" stroke-width="1.5" stroke-linecap="butt"/>
<line x1="334.91" y1="281.53" x2="334.91" y2="276.29" stroke="#000" stroke-width="1.5" stroke-linecap="butt"/>
<line x1="331.61" y1="276.29" x2="338.21" y2="276.29" stroke="#000" stroke-width="1.5" stroke-linecap="butt"/>
<line x1="346.48" y1="280.80" x2="346.48" y2="273.12" stroke="#000" stroke-width="1.5" stroke-linecap="butt"/>
<line x1="343.18" y1="273.12" x2="349.78" y2="273.12" stroke="#000" stroke-width="1.5" stroke-linecap="butt"/>
<line x1="358.06" y1="283.81" x2="358.06" y2="273.50" stroke="#000" stroke-width="1.5" stroke-linecap="butt"/>
<line x1="354.75" y1="273.50" x2="361.36" y2="273.50" stroke="#000" stroke-width="1.5" stroke-linecap="butt"/>
<line x1="369.63" y1="284.31" x2="369.63" y2="275.40" stroke="#000" stroke-width="1.5" stroke-linecap="butt"/>
<line x1="366.33" y1="275.40" x2="372.93" y2="275.40" stroke="#000" stroke-width="1.5" stroke-linecap="butt"/>
<line x1="381.20" y1="289.21" x2="381.20" y2="273.50" stroke="#000" stroke-width="1.5" stroke-linecap="butt"/>
<line x1="377.90" y1="273.50" x2="384.50" y2="273.50" stroke="#000" stroke-width="1.5" stroke-linecap="butt"/>
<line x1="392.77" y1="286.87" x2="392.77" y2="282.03" stroke="#000" stroke-width="1.5" stroke-linecap="butt"/>
<line x1="389.47" y1="282.03" x2="396.07" y2="282.03" stroke="#000" stroke-width="1.5" stroke-linecap="butt"/>
<line x1="300.20" y1="256.80" x2="300.20" y2="248.44" stroke="#000" stroke-width="1.5" stroke-linecap="butt"/>
<line x1="296.90" y1="248.44" x2="303.50" y2="248.44" stroke="#000" stroke-width="1.5" stroke-linecap="butt"/>
<line x1="311.77" y1="292.44" x2="311.77" y2="284.09" stroke="#000" stroke-width="1.5" stroke-linecap="butt"/>
<line x1="308.47" y1="284.09" x2="315.07" y2="284.09" stroke="#000" stroke-width="1.5" stroke-linecap="butt"/>
<line x1="323.34" y1="280.19" x2="323.34" y2="275.18" stroke="#000" stroke-width="1.5" stroke-linecap="butt"/>
<line x1="320.04" y1="275.18" x2="326.64" y2="275.18" stroke="#000" stroke-width="1.5" stroke-linecap="butt"/>
<line x1="346.48" y1="300.02" x2="346.48" y2="288.54" stroke="#000" stroke-width="1.5" stroke-linecap="butt"/>
<line x1="343.18" y1="288.54" x2="349.78" y2="288.54" stroke="#000" stroke-width="1.5" stroke-linecap="butt"/>
<line x1="358.06" y1="301.19" x2="358.06" y2="288.54" stroke="#000" stroke-width="1.5" stroke-linecap="butt"/>
<line x1="354.75" y1="288.54" x2="361.36" y2="288.54" stroke="#000" stroke-width="1.5" stroke-linecap="butt"/>
<line x1="369.63" y1="303.81" x2="369.63" y2="287.43" stroke="#000" stroke-width="1.5" stroke-linecap="butt"/>
<line x1="366.33" y1="287.43" x2="372.93" y2="287.43" stroke="#000" stroke-width="1.5" stroke-linecap="butt"/>
<line x1="392.77" y1="305.81" x2="392.77" y2="295.79" stroke="#000" stroke-width="1.5" stroke-linecap="butt"/>
<line x1="389.47" y1="295.79" x2="396.07" y2="295.79" stroke="#000" stroke-width="1.5" stroke-linecap="butt"/>
<line x1="404.34" y1="309.49" x2="404.34" y2="297.46" stroke="#000" stroke-width="1.5" stroke-linecap="butt"/>
<line x1="401.04" y1="297.46" x2="407.64" y2="297.46" stroke="#000" stroke-width="1.5" stroke-linecap="butt"/>
<line x1="415.91" y1="305.53" x2="415.91" y2="292.72" stroke="#000" stroke-width="1.5" stroke-linecap="butt"/>
<line x1="412.61" y1="292.72" x2="419.21" y2="292.72" stroke="#000" stroke-width="1.5" stroke-linecap="butt"/>
<line x1="427.48" y1="308.99" x2="427.48" y2="293.56" stroke="#000" stroke-width="1.5" stroke-linecap="butt"/>
<line x1="424.18" y1="293.56" x2="430.78" y2="293.56" stroke="#000" stroke-width="1.5" stroke-linecap="butt"/>
<line x1="439.05" y1="305.81" x2="439.05" y2="292.72" stroke="#000" stroke-width="1.5" stroke-linecap="butt"/>
<line x1="435.75" y1="292.72" x2="442.35" y2="292.72" stroke="#000" stroke-width="1.5" stroke-linecap="butt"/>
<line x1="450.62" y1="308.99" x2="450.62" y2="296.34" stroke="#000" stroke-width="1.5" stroke-linecap="butt"/>
<line x1="447.32" y1="296.34" x2="453.92" y2="296.34" stroke="#000" stroke-width="1.5" stroke-linecap="butt"/>
<line x1="462.19" y1="305.31" x2="462.19" y2="287.82" stroke="#000" stroke-width="1.5" stroke-linecap="butt"/>
<line x1="458.89" y1="287.82" x2="465.49" y2="287.82" stroke="#000" stroke-width="1.5" stroke-linecap="butt"/>
<line x1="300.20" y1="256.80" x2="300.20" y2="245.66" stroke="#000" stroke-width="1.5" stroke-linecap="butt"/>
<line x1="296.90" y1="245.66" x2="303.50" y2="245.66" stroke="#000" stroke-width="1.5" stroke-linecap="butt"/>
<line x1="323.34" y1="280.19" x2="323.34" y2="273.50" stroke="#000" stroke-width="1.5" stroke-linecap="butt"/>
<line x1="320.04" y1="273.50" x2="326.64" y2="273.50" stroke="#000" stroke-width="1.5" stroke-linecap="butt"/>
<line x1="300.20" y1="256.80" x2="300.20" y2="252.34" stroke="#000" stroke-width="1.5" stroke-linecap="butt"/>
<line x1="296.90" y1="252.34" x2="303.50" y2="252.34" stroke="#000" stroke-width="1.5" stroke-linecap="butt"/>
<line x1="300.20" y1="262.37" x2="300.20" y2="270.72" stroke="#000" stroke-width="1.5" stroke-linecap="butt"/>
<line x1="296.90" y1="270.72" x2="303.50" y2="270.72" stroke="#000" stroke-width="1.5" stroke-linecap="butt"/>
<line x1="311.77" y1="300.52" x2="311.77" y2="265.71" stroke="#000" stroke-width="1.5" stroke-linecap="butt"/>
<line x1="308.47" y1="265.71" x2="315.07" y2="265.71" stroke="#000" stroke-width="1.5" stroke-linecap="butt"/>
<line x1="323.34" y1="323.08" x2="323.34" y2="275.18" stroke="#000" stroke-width="1.5" stroke-linecap="butt"/>
<line x1="320.04" y1="275.18" x2="326.64" y2="275.18" stroke="#000" stroke-width="1.5" stroke-linecap="butt"/>
<polyline points="300.20,254.57 311.77,292.44 323.34,280.19 334.91,281.53 346.48,280.80 358.06,283.81 369.63,284.31 381.20,289.21 392.77,286.87" fill="none" stroke="#000" stroke-width="1.5" stroke-linejoin="round"/>
<polyline points="300.20,256.80 311.77,292.44 323.34,280.19 334.91,292.61 346.48,300.02 358.06,301.19 369.63,303.81 381.20,302.80 392.77,305.81 404.34,309.49 415.91,305.53 427.48,308.99 439.05,305.81 450.62,308.99 462.19,305.31" fill="none" stroke="#000" stroke-width="1.5" stroke-linejoin="round"/>
<polyline points="300.20,256.80 311.77,292.44 323.34,280.19 334.91,286.87" fill="none" stroke="#000" stroke-width="1.5" stroke-linejoin="round"/>
<polyline points="300.20,262.37 311.77,300.52 323.34,323.08" fill="none" stroke="#000" stroke-width="1.5" stroke-linejoin="miter"/>
<polygon points="300.20,253.80 303.20,256.80 300.20,259.80 297.20,256.80" fill="none" stroke="#000" stroke-width="1.35"/>
<polygon points="311.77,289.44 314.77,292.44 311.77,295.44 308.77,292.44" fill="none" stroke="#000" stroke-width="1.35"/>
<polygon points="323.34,277.19 326.34,280.19 323.34,283.19 320.34,280.19" fill="none" stroke="#000" stroke-width="1.35"/>
<polygon points="334.91,289.61 337.91,292.61 334.91,295.61 331.91,292.61" fill="none" stroke="#000" stroke-width="1.35"/>
<polygon points="346.48,297.02 349.48,300.02 346.48,303.02 343.48,300.02" fill="none" stroke="#000" stroke-width="1.35"/>
<polygon points="358.06,298.19 361.06,301.19 358.06,304.19 355.06,301.19" fill="none" stroke="#000" stroke-width="1.35"/>
<polygon points="369.63,300.81 372.63,303.81 369.63,306.81 366.63,303.81" fill="none" stroke="#000" stroke-width="1.35"/>
<polygon points="381.20,299.80 384.20,302.80 381.20,305.80 378.20,302.80" fill="none" stroke="#000" stroke-width="1.35"/>
<polygon points="392.77,302.81 395.77,305.81 392.77,308.81 389.77,305.81" fill="none" stroke="#000" stroke-width="1.35"/>
<polygon points="404.34,306.49 407.34,309.49 404.34,312.49 401.34,309.49" fill="none" stroke="#000" stroke-width="1.35"/>
<polygon points="415.91,302.53 418.91,305.53 415.91,308.53 412.91,305.53" fill="none" stroke="#000" stroke-width="1.35"/>
<polygon points="427.48,305.99 430.48,308.99 427.48,311.99 424.48,308.99" fill="none" stroke="#000" stroke-width="1.35"/>
<polygon points="439.05,302.81 442.05,305.81 439.05,308.81 436.05,305.81" fill="none" stroke="#000" stroke-width="1.35"/>
<polygon points="450.62,305.99 453.62,308.99 450.62,311.99 447.62,308.99" fill="none" stroke="#000" stroke-width="1.35"/>
<polygon points="462.19,302.31 465.19,305.31 462.19,308.31 459.19,305.31" fill="none" stroke="#000" stroke-width="1.35"/>
<circle cx="300.20" cy="256.80" r="2.75" fill="#000"/>
<circle cx="311.77" cy="292.44" r="2.75" fill="#000"/>
<circle cx="323.34" cy="280.19" r="2.75" fill="#000"/>
<circle cx="334.91" cy="286.87" r="2.75" fill="#000"/>
<polygon points="296.97,252.14 303.43,252.14 300.20,258.12" fill="#000"/>
<polygon points="308.54,290.02 315.00,290.02 311.77,296.00" fill="#000"/>
<polygon points="320.11,277.77 326.57,277.77 323.34,283.74" fill="#000"/>
<polygon points="331.68,279.10 338.14,279.10 334.91,285.08" fill="#000"/>
<polygon points="343.25,278.38 349.71,278.38 346.48,284.35" fill="#000"/>
<polygon points="354.82,281.39 361.29,281.39 358.06,287.36" fill="#000"/>
<polygon points="366.40,281.89 372.86,281.89 369.63,287.86" fill="#000"/>
<polygon points="377.97,286.79 384.43,286.79 381.20,292.77" fill="#000"/>
<polygon points="389.54,284.45 396.00,284.45 392.77,290.43" fill="#000"/>
<rect x="297.30" y="259.47" width="5.80" height="5.80" fill="none" stroke="#000" stroke-width="1.4"/>
<rect x="308.87" y="297.62" width="5.80" height="5.80" fill="none" stroke="#000" stroke-width="1.4"/>
<rect x="320.44" y="320.18" width="5.80" height="5.80" fill="none" stroke="#000" stroke-width="1.4"/>
<line x1="330.00" y1="330.40" x2="335.20" y2="330.40" stroke="#000" stroke-width="1.3" stroke-linecap="butt"/>
<line x1="332.60" y1="327.80" x2="332.60" y2="333.00" stroke="#000" stroke-width="1.3" stroke-linecap="butt"/>
<line x1="338.90" y1="287.70" x2="344.10" y2="287.70" stroke="#000" stroke-width="1.3" stroke-linecap="butt"/>
<line x1="341.50" y1="285.10" x2="341.50" y2="290.30" stroke="#000" stroke-width="1.3" stroke-linecap="butt"/>
<line x1="398.50" y1="284.60" x2="403.70" y2="284.60" stroke="#000" stroke-width="1.3" stroke-linecap="butt"/>
<line x1="401.10" y1="282.00" x2="401.10" y2="287.20" stroke="#000" stroke-width="1.3" stroke-linecap="butt"/>
<line x1="408.60" y1="232.30" x2="430.30" y2="232.30" stroke="#000" stroke-width="1.6" stroke-linecap="butt"/>
<rect x="416.77" y="228.88" width="7.25" height="7.25" fill="none" stroke="#000" stroke-width="1.6"/>
<line x1="408.60" y1="245.60" x2="430.30" y2="245.60" stroke="#000" stroke-width="1.6" stroke-linecap="butt"/>
<circle cx="420.40" cy="245.50" r="3.33" fill="#000"/>
<line x1="408.60" y1="259.80" x2="430.30" y2="259.80" stroke="#000" stroke-width="1.6" stroke-linecap="butt"/>
<polygon points="416.49,257.77 424.31,257.77 420.40,265.00" fill="#000"/>
<line x1="408.60" y1="275.40" x2="430.30" y2="275.40" stroke="#000" stroke-width="1.6" stroke-linecap="butt"/>
<polygon points="420.40,271.65 424.75,276.00 420.40,280.35 416.05,276.00" fill="#fff" stroke="#000" stroke-width="1.6"/>
<text class="r" x="433.60" y="236.50" font-size="12" textLength="18.7" lengthAdjust="spacingAndGlyphs">WT</text>
<text class="r" x="434.30" y="252.50" font-size="12" textLength="35.8" lengthAdjust="spacingAndGlyphs">CD62L</text>
<text class="r" x="471.80" y="248.40" font-size="7.6" textLength="9.6" lengthAdjust="spacingAndGlyphs">-/-</text>
<text class="r" x="432.10" y="265.20" font-size="12">β</text>
<text class="r" x="437.20" y="268.50" font-size="8.4">7</text>
<text class="r" x="443.20" y="261.30" font-size="7.6" textLength="10" lengthAdjust="spacingAndGlyphs">-/-</text>
<text class="r" x="432.60" y="281.20" font-size="12" textLength="36.8" lengthAdjust="spacingAndGlyphs">CD62L</text>
<text class="r" x="469.10" y="276.30" font-size="7.6" textLength="8.4" lengthAdjust="spacingAndGlyphs">-/-</text>
<text class="r" x="477.00" y="281.20" font-size="12" textLength="9" lengthAdjust="spacingAndGlyphs">/β</text>
<text class="r" x="485.70" y="283.60" font-size="8.4">7</text>
<text class="r" x="491.70" y="276.30" font-size="7.6" textLength="10" lengthAdjust="spacingAndGlyphs">-/-</text>
</svg>
</body></html>
